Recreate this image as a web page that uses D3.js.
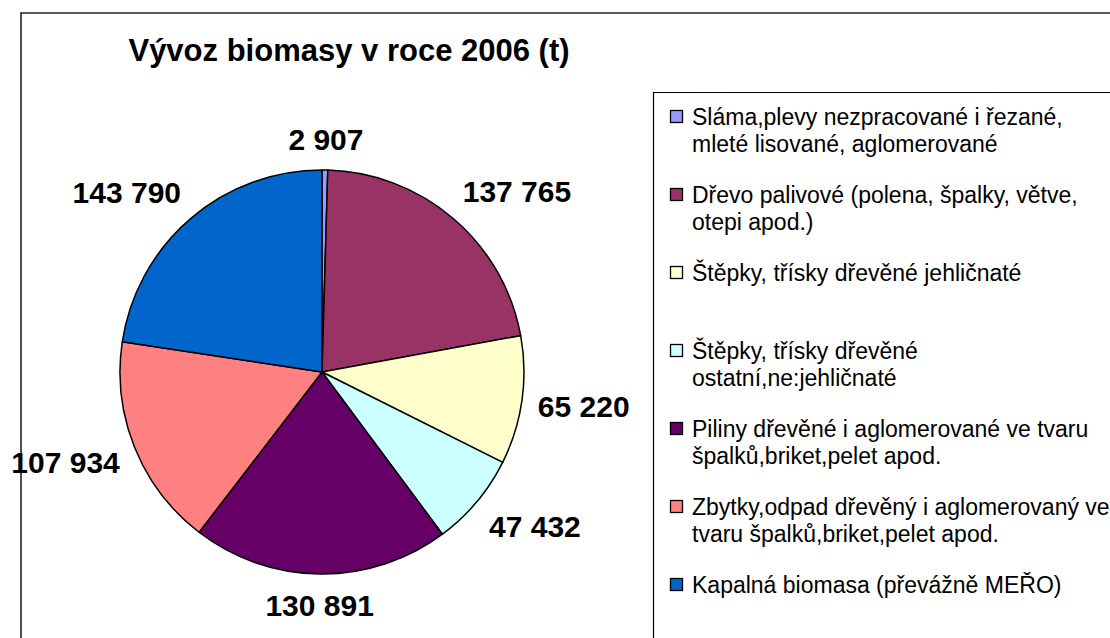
<!DOCTYPE html>
<html><head><meta charset="utf-8">
<script src="https://cdn.jsdelivr.net/npm/d3@7"></script>
<style>html,body{margin:0;padding:0;background:#fff;overflow:hidden}</style>
</head><body>
<svg id="chart" width="1110" height="638"></svg>
<script>
const title = "Vývoz biomasy v roce 2006 (t)";
const categories = [
  "Sláma,plevy nezpracované i řezané, mleté lisované, aglomerované",
  "Dřevo palivové (polena, špalky, větve, otepi apod.)",
  "Štěpky, třísky dřevěné jehličnaté",
  "Štěpky, třísky dřevěné ostatní,ne:jehličnaté",
  "Piliny dřevěné i aglomerované ve tvaru špalků,briket,pelet apod.",
  "Zbytky,odpad dřevěný i aglomerovaný ve tvaru špalků,briket,pelet apod.",
  "Kapalná biomasa (převážně MEŘO)"
];
const legendLines = [
  ["Sláma,plevy nezpracované i řezané,", "mleté lisované, aglomerované"],
  ["Dřevo palivové (polena, špalky, větve,", "otepi apod.)"],
  ["Štěpky, třísky dřevěné jehličnaté"],
  ["Štěpky, třísky dřevěné", "ostatní,ne:jehličnaté"],
  ["Piliny dřevěné i aglomerované ve tvaru", "špalků,briket,pelet apod."],
  ["Zbytky,odpad dřevěný i aglomerovaný ve", "tvaru špalků,briket,pelet apod."],
  ["Kapalná biomasa (převážně MEŘO)"]
];
const values = [2907, 137765, 65220, 47432, 130891, 107934, 143790];
const colors = ["#9999FF", "#993366", "#FFFFCC", "#CCFFFF", "#660066", "#FF8080", "#0066CC"];

const svg = d3.select("#chart");
const font = "'Liberation Sans', Arial, sans-serif";

// outer chart border (cropped at right/bottom)
svg.append("path")
  .attr("d", "M21,638 L21,13 L1110,13")
  .attr("fill", "none").attr("stroke", "#222").attr("stroke-width", 1.6);

// title
svg.append("text")
  .attr("x", 349).attr("y", 61)
  .attr("text-anchor", "middle")
  .attr("font-family", font).attr("font-weight", "bold").attr("font-size", 31)
  .attr("fill", "#000")
  .text(title);

// pie
const cx = 322, cy = 372, R = 202;
const g = svg.append("g").attr("transform", `translate(${cx},${cy})`);
const pie = d3.pie().sort(null).value(d => d)(values);
const arc = d3.arc().innerRadius(0).outerRadius(R);
g.selectAll("path.slice").data(pie).join("path")
  .attr("class", "slice")
  .attr("d", arc)
  .attr("fill", (d, i) => colors[i])
  .attr("stroke", "#000").attr("stroke-width", 1.5).attr("stroke-linejoin", "round");

// labels
const loc = d3.formatLocale({decimal: ",", thousands: " ", grouping: [3], currency: ["", ""]});
const fmt = loc.format(",d");
const rL = 218, boxH = 30;
const clamp = v => Math.max(-1, Math.min(1, v));
g.selectAll("text.lbl").data(pie).join("text")
  .attr("class", "lbl")
  .attr("font-family", font).attr("font-weight", "bold").attr("font-size", 30)
  .attr("text-anchor", "middle").attr("dy", "0.36em").attr("fill", "#000")
  .text(d => fmt(d.value))
  .each(function(d) {
    const a = (d.startAngle + d.endAngle) / 2;
    const w = this.getComputedTextLength();
    const px = rL * Math.sin(a), py = -rL * Math.cos(a);
    const x = px + (w / 2) * clamp(1.5 * Math.sin(a));
    const y = py + (boxH / 2) * clamp(-1.5 * Math.cos(a));
    d3.select(this).attr("x", x).attr("y", y);
  });

// legend
svg.append("path")
  .attr("d", "M653.5,638 L653.5,92.5 L1110,92.5")
  .attr("fill", "none").attr("stroke", "#000").attr("stroke-width", 1.2);

const ly = d3.scaleLinear().domain([0, 1]).range([117, 195]);
const lg = svg.append("g").selectAll("g").data(categories).join("g")
  .attr("transform", (d, i) => `translate(0,${ly(i)})`);
lg.append("rect")
  .attr("x", 670.5).attr("y", -6.5).attr("width", 12).attr("height", 12)
  .attr("fill", (d, i) => colors[i]).attr("stroke", "#000").attr("stroke-width", 1.3);
lg.each(function(d, i) {
  d3.select(this).selectAll("text").data(legendLines[i]).join("text")
    .attr("x", 692).attr("y", (t, j) => j * 27)
    .attr("dy", "0.35em")
    .attr("font-family", font).attr("font-size", 23).attr("fill", "#000")
    .text(t => t);
});
</script>
</body></html>
